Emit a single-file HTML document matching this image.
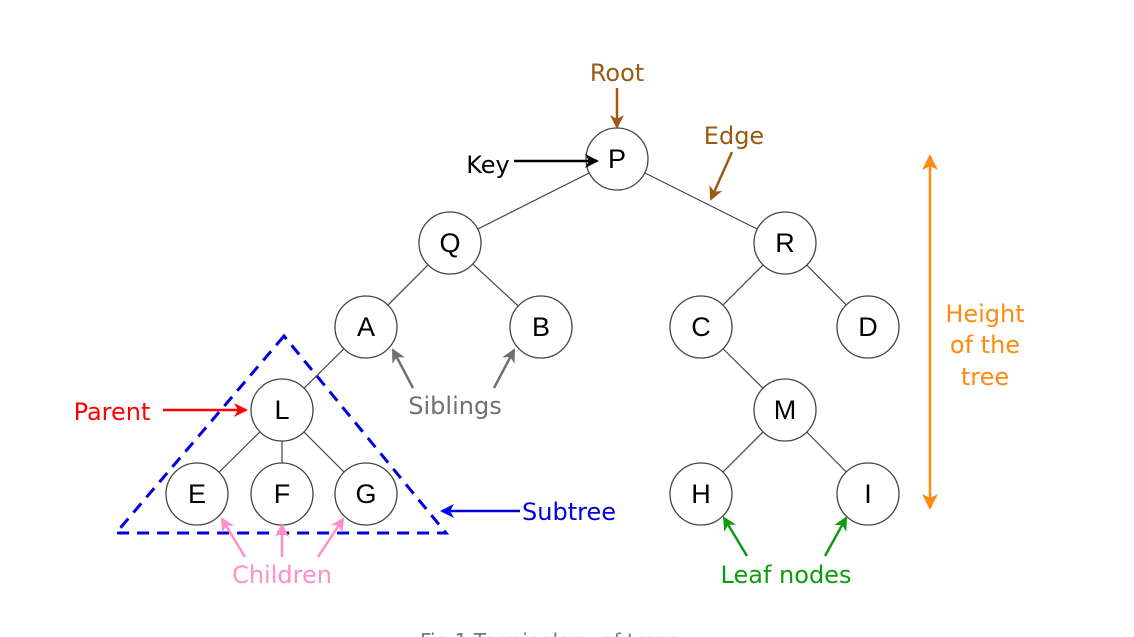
<!DOCTYPE html>
<html><head><meta charset="utf-8"><style>
html,body{margin:0;padding:0;background:#fff;}
svg{display:block}
.n{fill:#fff;stroke:#444;stroke-width:1.3}
.t{font-family:"Liberation Sans",sans-serif;font-size:27px;fill:#000;text-anchor:middle;dominant-baseline:central}
.l{font-family:"DejaVu Sans",sans-serif;font-size:24px}
</style></head><body>
<svg width="1134" height="637" viewBox="0 0 1134 637" xmlns="http://www.w3.org/2000/svg">
<defs>
<marker id="ab" markerWidth="14" markerHeight="14" refX="12" refY="7" orient="auto" markerUnits="userSpaceOnUse"><path d="M0,0 L14,7 L0,14 L4,7 z" fill="#000"/></marker>
<marker id="abr" markerWidth="14" markerHeight="14" refX="12" refY="7" orient="auto" markerUnits="userSpaceOnUse"><path d="M0,0 L14,7 L0,14 L4,7 z" fill="#9c5a10"/></marker>
<marker id="ared" markerWidth="14" markerHeight="14" refX="12" refY="7" orient="auto" markerUnits="userSpaceOnUse"><path d="M0,0 L14,7 L0,14 L4,7 z" fill="#f00"/></marker>
<marker id="abl" markerWidth="14" markerHeight="14" refX="12" refY="7" orient="auto" markerUnits="userSpaceOnUse"><path d="M0,0 L14,7 L0,14 L4,7 z" fill="#00f"/></marker>
<marker id="agr" markerWidth="14" markerHeight="14" refX="12" refY="7" orient="auto" markerUnits="userSpaceOnUse"><path d="M0,0 L14,7 L0,14 L4,7 z" fill="#707070"/></marker>
<marker id="apk" markerWidth="14" markerHeight="14" refX="12" refY="7" orient="auto" markerUnits="userSpaceOnUse"><path d="M0,0 L14,7 L0,14 L4,7 z" fill="#ff8fc8"/></marker>
<marker id="agn" markerWidth="14" markerHeight="14" refX="12" refY="7" orient="auto" markerUnits="userSpaceOnUse"><path d="M0,0 L14,7 L0,14 L4,7 z" fill="#109a10"/></marker>
<marker id="aor" markerWidth="16" markerHeight="16" refX="13" refY="8" orient="auto-start-reverse" markerUnits="userSpaceOnUse"><path d="M0,0 L16,8 L0,16 L4,8 z" fill="#ff8a10"/></marker>
</defs>
<g stroke="#444" stroke-width="1.2">
<line x1="617" y1="159" x2="450" y2="243"/><line x1="617" y1="159" x2="785" y2="243"/>
<line x1="450" y1="243" x2="366" y2="327"/><line x1="450" y1="243" x2="541" y2="327"/>
<line x1="785" y1="243" x2="701" y2="327"/><line x1="785" y1="243" x2="868" y2="327"/>
<line x1="366" y1="327" x2="282" y2="410"/><line x1="701" y1="327" x2="785" y2="410"/>
<line x1="282" y1="410" x2="197" y2="494"/><line x1="282" y1="410" x2="282" y2="494"/><line x1="282" y1="410" x2="366" y2="494"/>
<line x1="785" y1="410" x2="701" y2="494"/><line x1="785" y1="410" x2="868" y2="494"/>
</g>
<polygon points="284,336 116,533 446,533" fill="none" stroke="#0000dd" stroke-width="3" stroke-dasharray="12,8"/>
<g>
<circle class="n" cx="617" cy="159" r="31"/><text class="t" x="617" y="159">P</text>
<circle class="n" cx="450" cy="243" r="31"/><text class="t" x="450" y="243">Q</text>
<circle class="n" cx="785" cy="243" r="31"/><text class="t" x="785" y="243">R</text>
<circle class="n" cx="366" cy="327" r="31"/><text class="t" x="366" y="327">A</text>
<circle class="n" cx="541" cy="327" r="31"/><text class="t" x="541" y="327">B</text>
<circle class="n" cx="701" cy="327" r="31"/><text class="t" x="701" y="327">C</text>
<circle class="n" cx="868" cy="327" r="31"/><text class="t" x="868" y="327">D</text>
<circle class="n" cx="282" cy="410" r="31"/><text class="t" x="282" y="410">L</text>
<circle class="n" cx="785" cy="410" r="31"/><text class="t" x="785" y="410">M</text>
<circle class="n" cx="197" cy="494" r="31"/><text class="t" x="197" y="494">E</text>
<circle class="n" cx="282" cy="494" r="31"/><text class="t" x="282" y="494">F</text>
<circle class="n" cx="366" cy="494" r="31"/><text class="t" x="366" y="494">G</text>
<circle class="n" cx="701" cy="494" r="31"/><text class="t" x="701" y="494">H</text>
<circle class="n" cx="868" cy="494" r="31"/><text class="t" x="868" y="494">I</text>
</g>
<text class="l" x="617" y="81" fill="#9c5a10" text-anchor="middle">Root</text>
<line x1="617" y1="88" x2="617" y2="127" stroke="#9c5a10" stroke-width="2.5" marker-end="url(#abr)"/>
<text class="l" x="734" y="144" fill="#9c5a10" text-anchor="middle">Edge</text>
<line x1="732" y1="152" x2="711" y2="199" stroke="#9c5a10" stroke-width="2.5" marker-end="url(#abr)"/>
<text class="l" x="488" y="173" fill="#000" text-anchor="middle">Key</text>
<line x1="514" y1="161" x2="597" y2="161" stroke="#000" stroke-width="2.5" marker-end="url(#ab)"/>
<text class="l" x="112" y="420" fill="#f00" text-anchor="middle">Parent</text>
<line x1="163" y1="410" x2="246" y2="410" stroke="#f00" stroke-width="2.5" marker-end="url(#ared)"/>
<text class="l" x="455" y="414" fill="#707070" text-anchor="middle">Siblings</text>
<line x1="413" y1="388" x2="393" y2="350" stroke="#707070" stroke-width="2.5" marker-end="url(#agr)"/>
<line x1="494" y1="388" x2="514" y2="350" stroke="#707070" stroke-width="2.5" marker-end="url(#agr)"/>
<text class="l" x="569" y="520" fill="#0000dd" text-anchor="middle">Subtree</text>
<line x1="520" y1="511" x2="442" y2="511" stroke="#0000dd" stroke-width="2.5" marker-end="url(#abl)"/>
<text class="l" x="282" y="583" fill="#ff8fc8" text-anchor="middle">Children</text>
<line x1="245" y1="557" x2="222" y2="519" stroke="#ff8fc8" stroke-width="2.5" marker-end="url(#apk)"/>
<line x1="282" y1="557" x2="282" y2="525" stroke="#ff8fc8" stroke-width="2.5" marker-end="url(#apk)"/>
<line x1="318" y1="557" x2="343" y2="519" stroke="#ff8fc8" stroke-width="2.5" marker-end="url(#apk)"/>
<text class="l" x="786" y="583" fill="#109a10" text-anchor="middle">Leaf nodes</text>
<line x1="747" y1="556" x2="724" y2="518" stroke="#109a10" stroke-width="2.5" marker-end="url(#agn)"/>
<line x1="825" y1="556" x2="846" y2="518" stroke="#109a10" stroke-width="2.5" marker-end="url(#agn)"/>
<line x1="930" y1="157" x2="930" y2="507" stroke="#ff8a10" stroke-width="2.5" marker-start="url(#aor)" marker-end="url(#aor)"/>
<g class="l" fill="#ff8a10" text-anchor="middle">
<text x="985" y="322">Height</text><text x="985" y="353">of the</text><text x="985" y="385">tree</text>
</g>
<text x="420" y="648" font-family="DejaVu Sans,sans-serif" font-size="20" fill="#777">Fig 1 Terminology of trees</text>
</svg>
</body></html>
